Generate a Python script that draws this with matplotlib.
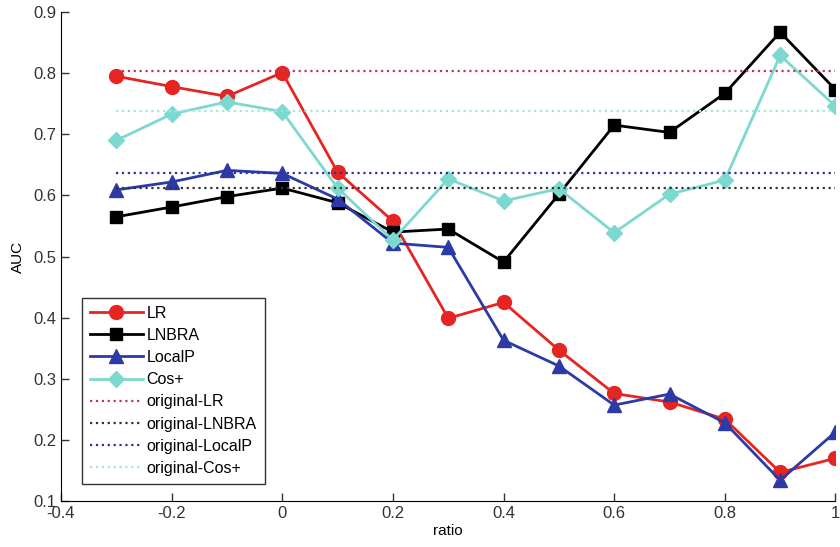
import matplotlib.pyplot as plt

ratio = [-0.3, -0.2, -0.1, 0.0, 0.1, 0.2, 0.3, 0.4, 0.5, 0.6, 0.7, 0.8, 0.9, 1.0]

lr = [0.795, 0.778, 0.762, 0.801, 0.638, 0.558, 0.399, 0.425, 0.347, 0.276, 0.262, 0.234, 0.147, 0.170]
lnbra = [0.565, 0.581, 0.598, 0.612, 0.588, 0.540, 0.545, 0.491, 0.602, 0.715, 0.703, 0.767, 0.867, 0.773]
localp = [0.609, 0.622, 0.641, 0.636, 0.594, 0.522, 0.515, 0.363, 0.321, 0.257, 0.275, 0.228, 0.134, 0.213]
cosp = [0.690, 0.733, 0.753, 0.737, 0.612, 0.527, 0.627, 0.591, 0.611, 0.539, 0.602, 0.625, 0.829, 0.746]

orig_lr = 0.804
orig_lnbra = 0.612
orig_localp = 0.636
orig_cosp = 0.738

plt.rcParams['font.family'] = ['Liberation Sans', 'DejaVu Sans']
plt.rcParams['font.size'] = 11

fig = plt.figure(figsize=(8.4, 5.47), dpi=100)
ax = fig.add_axes([0.0726, 0.084, 0.922, 0.894])

red = '#e52521'
blue = '#2c3aa6'
cyan = '#7dd8d0'

ax.plot(ratio, lr, '-o', color=red, lw=2, ms=10, label='LR')
ax.plot(ratio, lnbra, '-s', color='black', lw=2, ms=9, label='LNBRA')
ax.plot(ratio, localp, '-^', color=blue, lw=2, ms=10, label='LocalP')
ax.plot(ratio, cosp, '-D', color=cyan, lw=2, ms=8, label='Cos+')

n = len(ratio)
ax.plot(ratio, [orig_lr] * n, ':', color='#b83a58', lw=1.6, label='original-LR')
ax.plot(ratio, [orig_lnbra] * n, ':', color='#333333', lw=1.6, label='original-LNBRA')
ax.plot(ratio, [orig_localp] * n, ':', color='#3030a0', lw=1.6, label='original-LocalP')
ax.plot(ratio, [orig_cosp] * n, ':', color='#a0e6e0', lw=1.6, label='original-Cos+')

ax.set_xlim(-0.4, 1.0)
ax.set_ylim(0.1, 0.9)
ax.set_xticks([-0.4, -0.2, 0, 0.2, 0.4, 0.6, 0.8, 1.0])
ax.set_xticklabels(['-0.4', '-0.2', '0', '0.2', '0.4', '0.6', '0.8', '1'])
ax.set_yticks([0.1, 0.2, 0.3, 0.4, 0.5, 0.6, 0.7, 0.8, 0.9])
ax.tick_params(direction='in', length=6, width=1, colors='#333333', labelsize=12)
ax.spines['top'].set_visible(False)
ax.spines['right'].set_visible(False)
ax.set_xlabel('ratio', fontsize=11, labelpad=2)
ax.set_ylabel('AUC', fontsize=11, labelpad=6)

leg = ax.legend(loc='lower left', bbox_to_anchor=(0.027, 0.035), borderaxespad=0,
                fancybox=False, edgecolor='#333333', framealpha=1, fontsize=11.5,
                handlelength=3.3, labelspacing=0.45, borderpad=0.5, handletextpad=0.25)
leg.get_frame().set_linewidth(1)

fig.savefig('out.png', dpi=100)
